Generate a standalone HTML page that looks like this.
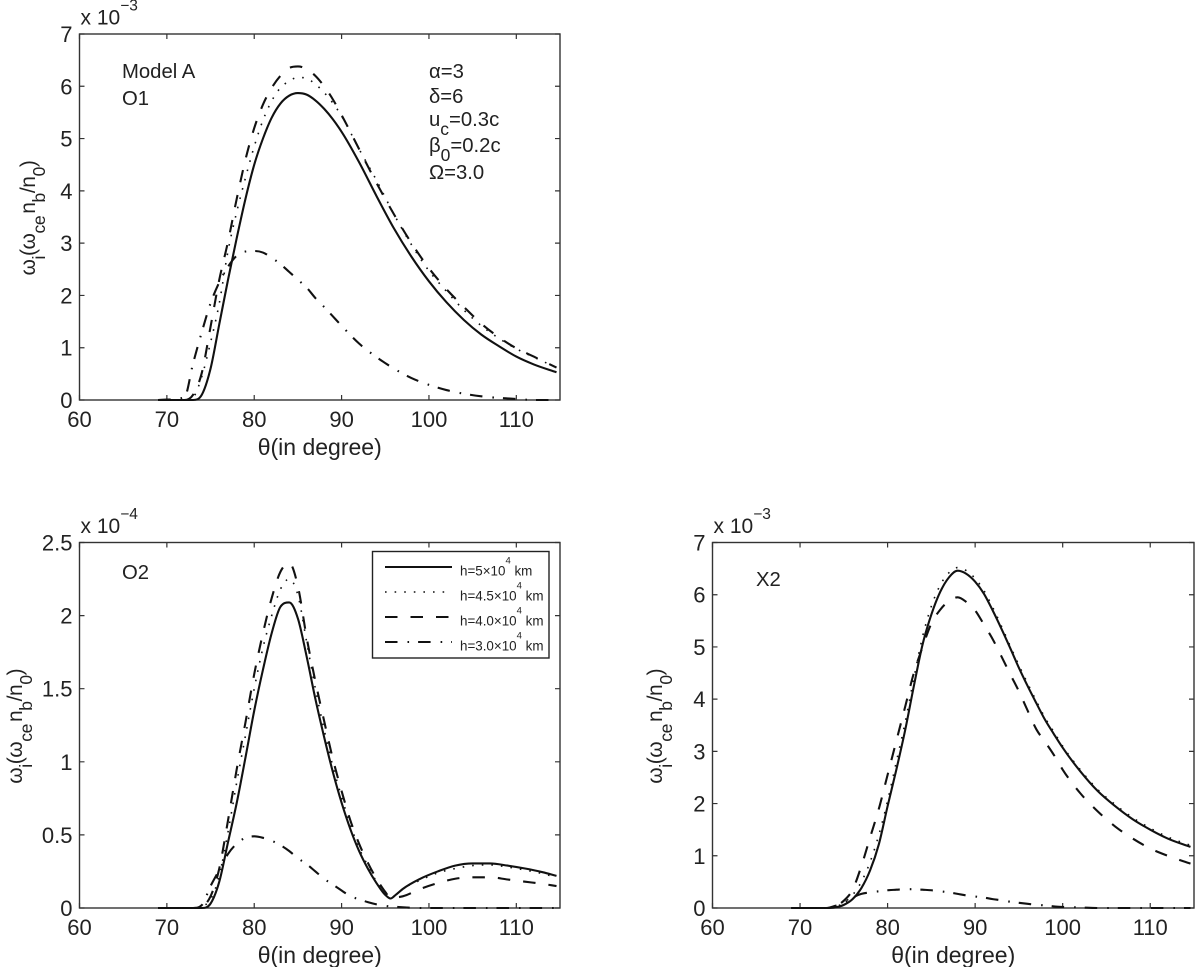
<!DOCTYPE html>
<html>
<head>
<meta charset="utf-8">
<title>Growth rate versus angle</title>
<style>
html,body{margin:0;padding:0;background:#fff;}
svg{display:block;}
text{font-family:"Liberation Sans",sans-serif;fill:#222;}
</style>
</head>
<body>
<svg id="figure" xmlns="http://www.w3.org/2000/svg" width="1200" height="967" viewBox="0 0 1200 967">
  <rect x="0" y="0" width="1200" height="967" fill="#fff"/>
  <g font-size="20.3">
    <text x="122" y="78">Model A</text>
    <text x="122" y="105">O1</text>
    <text x="429" y="78">α=3</text>
    <text x="429" y="103">δ=6</text>
    <text x="429" y="126">u<tspan font-size="17.5" dy="9">c</tspan><tspan dy="-9">=0.3c</tspan></text>
    <text x="429" y="152">β<tspan font-size="17.5" dy="9">0</tspan><tspan dy="-9">=0.2c</tspan></text>
    <text x="429" y="179">Ω=3.0</text>
  </g>
  <text x="122" y="579" font-size="20.3">O2</text>
  <text x="756" y="586" font-size="20.3">X2</text>
</svg>
<script>
var NS = 'http://www.w3.org/2000/svg';

// Shared axis settings
var xTickValues = [60, 70, 80, 90, 100, 110];
var xDomain = [60, 115];
var seriesNames = ['h-5e4', 'h-4-5e4', 'h-4-0e4', 'h-3-0e4'];
var legendLabels = ['h=5×10', 'h=4.5×10', 'h=4.0×10', 'h=3.0×10'];
var seriesDash = ['none', '1.6 8', '12.5 13', '12.5 10 1.6 9'];

// Panel O1
var thetaO1 = [69,72,73,74,75,76,77,78,79,80,81,82,83,84,85,86,87,88,89,90,92,94,96,98,100,102,104,106,108,110,112,114.6];
var o1Solid = [0,0,0,.1,.6,1.45,2.3,3.1,3.85,4.5,5,5.4,5.67,5.82,5.87,5.84,5.73,5.57,5.37,5.13,4.55,3.9,3.28,2.74,2.27,1.87,1.53,1.25,1.03,.83,.68,.53];
var o1Dotted = [0,0,.05,.45,1.1,1.85,2.85,3.6,4.25,4.85,5.35,5.72,5.97,6.1,6.17,6.15,6.04,5.88,5.68,5.43,4.8,4.2,3.55,2.97,2.47,2.08,1.72,1.42,1.18,.98,.82,.62];
var o1Dashed = [0,0,.1,.52,1.4,2.3,3.03,3.85,4.6,5.2,5.65,5.97,6.2,6.35,6.38,6.33,6.2,6,5.75,5.45,4.8,4.15,3.55,3,2.52,2.12,1.78,1.46,1.2,.99,.83,.62];
var o1DashDot = [0,.05,.7,1.3,1.85,2.25,2.55,2.76,2.84,2.85,2.82,2.72,2.6,2.45,2.3,2.15,1.95,1.78,1.6,1.42,1.08,.82,.6,.42,.29,.19,.12,.07,.04,.02,0,0];
var o1YTicks = [0, 1, 2, 3, 4, 5, 6, 7];

// Panel O2
var thetaO2 = [69,72,73,74,75,76,77,78,79,80,81,82,83,84,85,86,87,88,89,90,91,92,93,94,95,95.6,96.2,97,99,101,103,105,107,109,111,113,114.6];
var o2Solid = [0,0,0,0,.03,.18,.45,.72,1.03,1.35,1.63,1.88,2.06,2.09,1.98,1.72,1.43,1.17,.93,.72,.54,.39,.27,.17,.09,.065,.09,.13,.2,.25,.29,.305,.305,.29,.27,.245,.22];
var o2Dotted = [0,0,0,.01,.06,.22,.52,.86,1.18,1.5,1.78,2,2.18,2.25,2.14,1.82,1.5,1.22,.97,.76,.57,.41,.29,.18,.1,.07,.09,.13,.19,.24,.27,.29,.295,.28,.26,.235,.21];
var o2Dashed = [0,0,0,.01,.08,.27,.6,.95,1.27,1.6,1.88,2.12,2.3,2.36,2.2,1.85,1.55,1.28,1.02,.8,.6,.44,.31,.2,.11,.07,.072,.08,.13,.17,.2,.21,.21,.195,.18,.165,.15];
var o2DashDot = [0,0,0,.02,.15,.26,.37,.44,.48,.49,.48,.46,.43,.39,.34,.3,.25,.2,.16,.12,.08,.06,.04,.025,.015,.01,.008,.005,0,0,0,0,0,0,0,0,0];
var o2YTicks = [0, 0.5, 1, 1.5, 2, 2.5];

// Panel X2
var thetaX2 = [69,73,74,75,76,77,78,79,80,81,82,83,84,85,86,87,88,89,90,91,92,93,94,95,96,97,98,99,100,102,104,106,108,110,112,114.6];
var x2Solid = [0,0,.01,.06,.17,.38,.72,1.22,1.95,2.65,3.4,4.25,5.05,5.62,6.05,6.33,6.46,6.4,6.25,6.02,5.7,5.35,4.98,4.6,4.25,3.92,3.6,3.33,3.07,2.62,2.24,1.95,1.7,1.5,1.33,1.17];
var x2Dotted = [0,0,.02,.1,.25,.5,.88,1.4,2.05,2.8,3.55,4.4,5.2,5.78,6.18,6.42,6.52,6.46,6.31,6.08,5.76,5.4,5.02,4.65,4.3,3.96,3.64,3.37,3.1,2.65,2.27,1.98,1.73,1.53,1.36,1.2];
var x2Dashed = [0,0,.03,.14,.35,.8,1.35,1.9,2.55,3.2,3.85,4.5,5,5.45,5.71,5.88,5.95,5.86,5.7,5.43,5.15,4.82,4.48,4.15,3.78,3.42,3.18,2.93,2.65,2.2,1.85,1.56,1.33,1.14,1,.85];
var x2DashDot = [0,0,.04,.1,.2,.27,.3,.32,.34,.35,.36,.36,.35,.34,.32,.3,.27,.24,.22,.2,.17,.15,.12,.1,.08,.06,.05,.03,.02,.01,0,0,0,0,0,0];
var x2YTicks = [0, 1, 2, 3, 4, 5, 6, 7];

var svg = document.getElementById('figure');

function make(tag, parent) {
  var el = document.createElementNS(NS, tag);
  parent.appendChild(el);
  return el;
}

function monotonePath(xs, ys) {
  var n = xs.length, i, m = [], d = [], h = [];
  for (i = 0; i < n - 1; i++) {
    h[i] = xs[i + 1] - xs[i];
    d[i] = (ys[i + 1] - ys[i]) / h[i];
  }
  m[0] = d[0];
  m[n - 1] = d[n - 2];
  for (i = 1; i < n - 1; i++) {
    if (d[i - 1] * d[i] <= 0) {
      m[i] = 0;
    } else {
      var p = (d[i - 1] * h[i] + d[i] * h[i - 1]) / (h[i - 1] + h[i]);
      var limit = 3 * Math.min(Math.abs(d[i - 1]), Math.abs(d[i]));
      m[i] = (p < 0 ? -1 : 1) * Math.min(Math.abs(p), limit);
    }
  }
  var s = 'M' + xs[0].toFixed(2) + ' ' + ys[0].toFixed(2);
  for (i = 0; i < n - 1; i++) {
    s += 'C' + (xs[i] + h[i] / 3).toFixed(2) + ' ' + (ys[i] + m[i] * h[i] / 3).toFixed(2) +
      ' ' + (xs[i + 1] - h[i] / 3).toFixed(2) + ' ' + (ys[i + 1] - m[i + 1] * h[i] / 3).toFixed(2) +
      ' ' + xs[i + 1].toFixed(2) + ' ' + ys[i + 1].toFixed(2);
  }
  return s;
}

function drawPanel(id, box, theta, series, yTicks, exponent, titleX) {
  var left = box[0], right = box[1], top = box[2], bottom = box[3];
  var yMax = yTicks[yTicks.length - 1];
  function xScale(v) { return left + (v - xDomain[0]) / (xDomain[1] - xDomain[0]) * (right - left); }
  function yScale(v) { return bottom - v / yMax * (bottom - top); }

  var g = make('g', svg);
  
  

  var frame = make('rect', g);
  
  
  frame.setAttribute('x', left);
  frame.setAttribute('y', top);
  frame.setAttribute('width', right - left);
  frame.setAttribute('height', bottom - top);
  frame.setAttribute('fill', 'none');
  frame.setAttribute('stroke', '#333');
  frame.setAttribute('stroke-width', '1.4');

  xTickValues.forEach(function (v) {
    var x = xScale(v);
    var tick = make('path', g);
    
    
    tick.setAttribute('d', 'M' + x + ' ' + bottom + 'v-5M' + x + ' ' + top + 'v5');
    tick.setAttribute('stroke', '#333');
    tick.setAttribute('stroke-width', '1.2');
    var label = make('text', g);
    
    
    label.setAttribute('x', x);
    label.setAttribute('y', bottom + 27);
    label.setAttribute('text-anchor', 'middle');
    label.setAttribute('font-size', '22');
    label.textContent = v;
  });

  yTicks.forEach(function (v) {
    var y = yScale(v);
    var tick = make('path', g);
    
    
    tick.setAttribute('d', 'M' + left + ' ' + y + 'h5M' + right + ' ' + y + 'h-5');
    tick.setAttribute('stroke', '#333');
    tick.setAttribute('stroke-width', '1.2');
    var label = make('text', g);
    
    
    label.setAttribute('x', left - 7);
    label.setAttribute('y', y + 8);
    label.setAttribute('text-anchor', 'end');
    label.setAttribute('font-size', '22');
    label.textContent = v;
  });

  var xs = theta.map(xScale);
  series.forEach(function (values, i) {
    var line = make('path', g);
    
    
    line.setAttribute('d', monotonePath(xs, values.map(yScale)));
    line.setAttribute('fill', 'none');
    line.setAttribute('stroke', '#111');
    line.setAttribute('stroke-width', i === 1 ? '1.6' : '2.1');
    line.setAttribute('stroke-dasharray', seriesDash[i]);
  });

  var xTitle = make('text', g);
  
  
  xTitle.setAttribute('x', (left + right) / 2);
  xTitle.setAttribute('y', bottom + 55);
  xTitle.setAttribute('text-anchor', 'middle');
  xTitle.setAttribute('font-size', '23');
  xTitle.textContent = 'θ(in degree)';

  var yTitle = make('text', g);
  
  
  yTitle.setAttribute('text-anchor', 'middle');
  yTitle.setAttribute('font-size', '21');
  yTitle.setAttribute('letter-spacing', '-0.4');
  var ty = (top + bottom) / 2 + 1;
  yTitle.setAttribute('transform', 'translate(' + titleX + ' ' + ty + ') rotate(-90)');
  yTitle.innerHTML = 'ω<tspan font-size="17.5" dy="10">i</tspan><tspan dy="-10">(ω</tspan><tspan font-size="17.5" dy="10">ce</tspan><tspan dx="2" dy="-10">n</tspan><tspan font-size="17.5" dy="10">b</tspan><tspan dy="-10">/n</tspan><tspan font-size="17.5" dy="10">0</tspan><tspan dy="-10">)</tspan>';

  var mult = make('text', g);
  
  
  mult.setAttribute('x', left + 1);
  mult.setAttribute('y', top - 9.5);
  mult.setAttribute('font-size', '21');
  mult.innerHTML = 'x 10<tspan font-size="15.5" dy="-14">−' + exponent + '</tspan>';
}

drawPanel('o1', [79.5, 560, 34, 400], thetaO1, [o1Solid, o1Dotted, o1Dashed, o1DashDot], o1YTicks, 3, 35);
drawPanel('o2', [79.5, 560, 542.5, 908], thetaO2, [o2Solid, o2Dotted, o2Dashed, o2DashDot], o2YTicks, 4, 22);
drawPanel('x2', [712.5, 1194, 542.5, 908], thetaX2, [x2Solid, x2Dotted, x2Dashed, x2DashDot], x2YTicks, 3, 662);

// Legend
var legend = make('g', svg);



var legendBox = make('rect', legend);


legendBox.setAttribute('x', 372.5);
legendBox.setAttribute('y', 551.5);
legendBox.setAttribute('width', 176.5);
legendBox.setAttribute('height', 106.5);
legendBox.setAttribute('fill', '#fff');
legendBox.setAttribute('stroke', '#222');
legendBox.setAttribute('stroke-width', '1.4');

legendLabels.forEach(function (txt, i) {
  var y = 567 + i * 25;
  var sample = make('line', legend);
  
  
  sample.setAttribute('x1', 385);
  sample.setAttribute('x2', 452);
  sample.setAttribute('y1', y);
  sample.setAttribute('y2', y);
  sample.setAttribute('stroke', '#111');
  sample.setAttribute('stroke-width', i === 1 ? '1.6' : '2.1');
  sample.setAttribute('stroke-dasharray', seriesDash[i]);
  var label = make('text', legend);
  
  
  label.setAttribute('x', 460);
  label.setAttribute('y', y + 8.5);
  label.setAttribute('font-size', '13.4');
  label.innerHTML = txt + '<tspan font-size="9.5" dy="-12">4</tspan><tspan dy="12"> km</tspan>';
});
</script>
</body>
</html>
